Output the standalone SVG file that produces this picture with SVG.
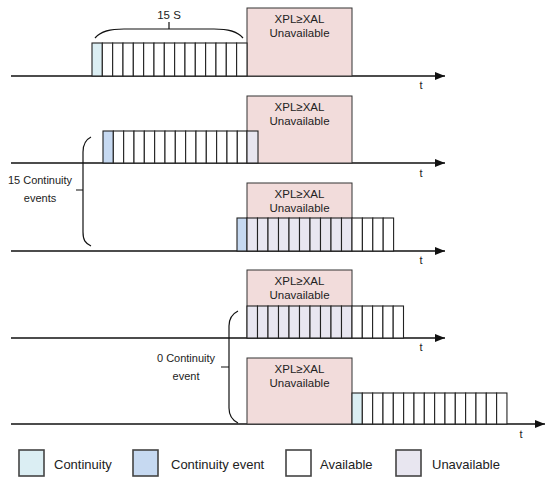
<svg xmlns="http://www.w3.org/2000/svg" width="550" height="485" viewBox="0 0 550 485">
<defs>
<style>
text{font-family:"Liberation Sans",Arial,sans-serif;fill:#222}
.lbl{font-size:11.5px;text-anchor:middle}
.t{font-size:11px;text-anchor:middle}
.leg{font-size:13px}
.axis{stroke:#111;stroke-width:1.3;fill:none}
.brace{stroke:#111;stroke-width:1.2;fill:none}
.pink{fill:#f2dcdb;stroke:#333;stroke-width:1}
.c{stroke:#222;stroke-width:1.1}
.lg{stroke:#444;stroke-width:1.6}
.cont{fill:#dbeef3}
.ev{fill:#c6d9f1}
.av{fill:#ffffff}
.un{fill:#e8e6f0}
</style>
<marker id="ah" viewBox="0 0 10 8" refX="10" refY="4" markerWidth="10" markerHeight="8" markerUnits="userSpaceOnUse" orient="auto">
<path d="M0,0 L10,4 L0,8 Z" fill="#111"/>
</marker>
</defs>

<g id="connectors">
<line class="axis" x1="11" y1="76" x2="445" y2="76" marker-end="url(#ah)"/>
<line class="axis" x1="11" y1="163" x2="445" y2="163" marker-end="url(#ah)"/>
<line class="axis" x1="11" y1="251" x2="445" y2="251" marker-end="url(#ah)"/>
<line class="axis" x1="11" y1="338" x2="445" y2="338" marker-end="url(#ah)"/>
<line class="axis" x1="11" y1="424" x2="545" y2="424" marker-end="url(#ah)"/>
<path class="brace" d="M95,38 C101,31 110,29 124,29 H214 C228,29 237,31 243,38 M169,29 V22"/>
<path class="brace" d="M91,137 C85,140 83,145 83,152 V232 C83,240 85,243 91,246 M83,190 H76"/>
<path class="brace" d="M238,311 C232,314 229,319 229,326 V408 C229,416 232,420 238,423 M229,367 H221"/>
</g>

<g id="row1">
<rect class="pink" x="247" y="8" width="105" height="68"/>
<text class="lbl" x="299.5" y="23">XPL≥XAL</text>
<text class="lbl" x="299.5" y="37">Unavailable</text>
<rect class="c cont" x="92" y="43" width="10.33" height="33"/>
<rect class="c av" x="102.33" y="43" width="10.33" height="33"/>
<rect class="c av" x="112.66" y="43" width="10.33" height="33"/>
<rect class="c av" x="122.99" y="43" width="10.33" height="33"/>
<rect class="c av" x="133.32" y="43" width="10.33" height="33"/>
<rect class="c av" x="143.65" y="43" width="10.33" height="33"/>
<rect class="c av" x="153.98" y="43" width="10.33" height="33"/>
<rect class="c av" x="164.31" y="43" width="10.33" height="33"/>
<rect class="c av" x="174.64" y="43" width="10.33" height="33"/>
<rect class="c av" x="184.97" y="43" width="10.33" height="33"/>
<rect class="c av" x="195.3" y="43" width="10.33" height="33"/>
<rect class="c av" x="205.63" y="43" width="10.33" height="33"/>
<rect class="c av" x="215.96" y="43" width="10.33" height="33"/>
<rect class="c av" x="226.29" y="43" width="10.33" height="33"/>
<rect class="c av" x="236.62" y="43" width="10.38" height="33"/>
<text class="lbl" x="169" y="19">15 S</text>
<text class="t" x="421" y="89">t</text>
</g>

<g id="row2">
<rect class="pink" x="247" y="96" width="105" height="67"/>
<text class="lbl" x="299.5" y="111">XPL≥XAL</text>
<text class="lbl" x="299.5" y="125">Unavailable</text>
<rect class="c ev" x="103" y="131" width="10.33" height="32"/>
<rect class="c av" x="113.33" y="131" width="10.33" height="32"/>
<rect class="c av" x="123.66" y="131" width="10.33" height="32"/>
<rect class="c av" x="133.99" y="131" width="10.33" height="32"/>
<rect class="c av" x="144.32" y="131" width="10.33" height="32"/>
<rect class="c av" x="154.65" y="131" width="10.33" height="32"/>
<rect class="c av" x="164.98" y="131" width="10.33" height="32"/>
<rect class="c av" x="175.31" y="131" width="10.33" height="32"/>
<rect class="c av" x="185.64" y="131" width="10.33" height="32"/>
<rect class="c av" x="195.97" y="131" width="10.33" height="32"/>
<rect class="c av" x="206.3" y="131" width="10.33" height="32"/>
<rect class="c av" x="216.63" y="131" width="10.33" height="32"/>
<rect class="c av" x="226.96" y="131" width="10.33" height="32"/>
<rect class="c av" x="237.29" y="131" width="9.71" height="32"/>
<rect class="c un" x="247" y="131" width="11" height="32"/>
<text class="t" x="421" y="177">t</text>
</g>

<g id="row3">
<rect class="pink" x="247" y="183" width="105" height="68"/>
<text class="lbl" x="299.5" y="198">XPL≥XAL</text>
<text class="lbl" x="299.5" y="212">Unavailable</text>
<rect class="c ev" x="237" y="218" width="10" height="33"/>
<rect class="c un" x="247" y="218" width="10.5" height="33"/>
<rect class="c un" x="257.5" y="218" width="10.5" height="33"/>
<rect class="c un" x="268" y="218" width="10.5" height="33"/>
<rect class="c un" x="278.5" y="218" width="10.5" height="33"/>
<rect class="c un" x="289" y="218" width="10.5" height="33"/>
<rect class="c un" x="299.5" y="218" width="10.5" height="33"/>
<rect class="c un" x="310" y="218" width="10.5" height="33"/>
<rect class="c un" x="320.5" y="218" width="10.5" height="33"/>
<rect class="c un" x="331" y="218" width="10.5" height="33"/>
<rect class="c un" x="341.5" y="218" width="10.5" height="33"/>
<rect class="c av" x="352" y="218" width="10.4" height="33"/>
<rect class="c av" x="362.4" y="218" width="10.4" height="33"/>
<rect class="c av" x="372.8" y="218" width="10.4" height="33"/>
<rect class="c av" x="383.2" y="218" width="10.4" height="33"/>
<text class="t" x="421" y="264">t</text>
</g>

<g id="row4">
<rect class="pink" x="247" y="270" width="105" height="68"/>
<text class="lbl" x="299.5" y="285">XPL≥XAL</text>
<text class="lbl" x="299.5" y="299">Unavailable</text>
<rect class="c un" x="247" y="306" width="10.5" height="32"/>
<rect class="c un" x="257.5" y="306" width="10.5" height="32"/>
<rect class="c un" x="268" y="306" width="10.5" height="32"/>
<rect class="c un" x="278.5" y="306" width="10.5" height="32"/>
<rect class="c un" x="289" y="306" width="10.5" height="32"/>
<rect class="c un" x="299.5" y="306" width="10.5" height="32"/>
<rect class="c un" x="310" y="306" width="10.5" height="32"/>
<rect class="c un" x="320.5" y="306" width="10.5" height="32"/>
<rect class="c un" x="331" y="306" width="10.5" height="32"/>
<rect class="c un" x="341.5" y="306" width="10.5" height="32"/>
<rect class="c av" x="352" y="306" width="10.3" height="32"/>
<rect class="c av" x="362.3" y="306" width="10.3" height="32"/>
<rect class="c av" x="372.6" y="306" width="10.3" height="32"/>
<rect class="c av" x="382.9" y="306" width="10.3" height="32"/>
<rect class="c av" x="393.2" y="306" width="10.3" height="32"/>
<text class="t" x="421" y="351">t</text>
</g>

<g id="row5">
<rect class="pink" x="247" y="358" width="105" height="66"/>
<text class="lbl" x="299.5" y="373">XPL≥XAL</text>
<text class="lbl" x="299.5" y="387">Unavailable</text>
<rect class="c cont" x="352" y="393" width="10.33" height="31"/>
<rect class="c av" x="362.33" y="393" width="10.33" height="31"/>
<rect class="c av" x="372.66" y="393" width="10.33" height="31"/>
<rect class="c av" x="382.99" y="393" width="10.33" height="31"/>
<rect class="c av" x="393.32" y="393" width="10.33" height="31"/>
<rect class="c av" x="403.65" y="393" width="10.33" height="31"/>
<rect class="c av" x="413.98" y="393" width="10.33" height="31"/>
<rect class="c av" x="424.31" y="393" width="10.33" height="31"/>
<rect class="c av" x="434.64" y="393" width="10.33" height="31"/>
<rect class="c av" x="444.97" y="393" width="10.33" height="31"/>
<rect class="c av" x="455.3" y="393" width="10.33" height="31"/>
<rect class="c av" x="465.63" y="393" width="10.33" height="31"/>
<rect class="c av" x="475.96" y="393" width="10.33" height="31"/>
<rect class="c av" x="486.29" y="393" width="10.33" height="31"/>
<rect class="c av" x="496.62" y="393" width="10.33" height="31"/>
<text class="t" x="521" y="438">t</text>
</g>

<g id="label-15">
<text class="t" x="40" y="184">15 Continuity</text>
<text class="t" x="40" y="202">events</text>
</g>
<g id="label-0">
<text class="t" x="186" y="362">0 Continuity</text>
<text class="t" x="186" y="380">event</text>
</g>

<g id="legend">
<rect class="lg cont" x="19" y="450" width="25" height="26"/>
<text class="leg" x="54" y="469">Continuity</text>
<rect class="lg ev" x="133" y="450" width="25" height="26"/>
<text class="leg" x="171" y="469">Continuity event</text>
<rect class="lg av" x="286" y="450" width="25" height="26"/>
<text class="leg" x="320" y="469">Available</text>
<rect class="lg un" x="396" y="450" width="25" height="26"/>
<text class="leg" x="432" y="469">Unavailable</text>
</g>
</svg>
